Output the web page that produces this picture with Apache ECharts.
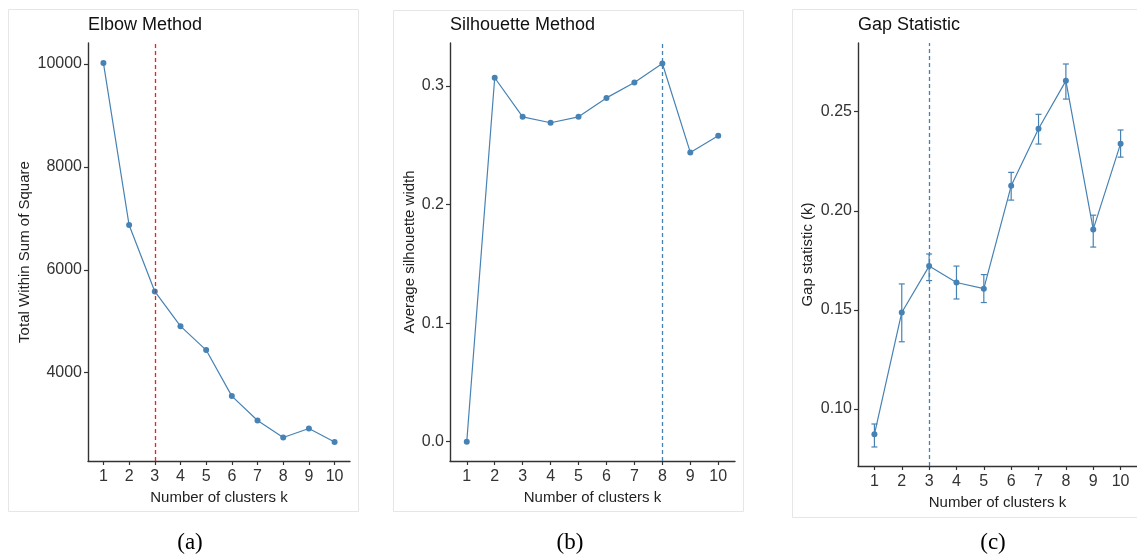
<!DOCTYPE html>
<html><head><meta charset="utf-8">
<script src="https://cdn.jsdelivr.net/npm/echarts@6/dist/echarts.min.js"></script>
<style>html,body{margin:0;padding:0;background:#fff}#c{width:1137px;height:556px}</style>
</head><body><div id="c"></div>
<script>
// ---- data ----
const ks = [1, 2, 3, 4, 5, 6, 7, 8, 9, 10];
const wss = [10020, 6870, 5580, 4905, 4440, 3545, 3070, 2740, 2915, 2655];
const sil = [0.000, 0.307, 0.274, 0.269, 0.274, 0.290, 0.303, 0.319, 0.244, 0.258];
const gap = [0.0872, 0.1487, 0.1721, 0.1638, 0.1607, 0.2126, 0.2414, 0.2656, 0.1906, 0.2339];
const gapLow = [0.0808, 0.1339, 0.1648, 0.1555, 0.1537, 0.2054, 0.2337, 0.2564, 0.1817, 0.2271];
const gapHigh = [0.0924, 0.1631, 0.1782, 0.1721, 0.1678, 0.2194, 0.2487, 0.2741, 0.1978, 0.2408];
const wssTicks = [4000, 6000, 8000, 10000];
const silTicks = [0.0, 0.1, 0.2, 0.3];
const gapTicks = [0.10, 0.15, 0.20, 0.25];
const titles = ['Elbow Method', 'Silhouette Method', 'Gap Statistic'];
const yNames = ['Total Within Sum of Square', 'Average silhouette width', 'Gap statistic (k)'];
const xName = 'Number of clusters k';
const captions = ['(a)', '(b)', '(c)'];
const optimalK = [3, 8, 3];

// ---- styling / layout ----
const FONT = 'Liberation Sans';
const BLUE = '#4682b4';
const AX = '#333';
const grids = [
  {left: 88, top: 43, width: 262, height: 418},
  {left: 450, top: 43, width: 285, height: 418},
  {left: 858, top: 43, width: 279, height: 423}
];
const yRanges = [[2284, 10408], [-0.0163, 0.3363], [0.0712, 0.2847]];
const yTickSets = [wssTicks, silTicks, gapTicks];
const yFmt = [v => String(v), v => v.toFixed(1), v => v.toFixed(2)];
const yNameGaps = [56, 32, 43];
const titleLefts = [88, 450, 858];
const vColors = ['#ff1a1a', BLUE, BLUE];

const chart = echarts.init(document.getElementById('c'), null, {renderer: 'canvas'});

const xAxes = grids.map((g, i) => ({
  type: 'value', gridIndex: i, min: 0.4, max: 10.6,
  name: xName, nameLocation: 'middle', nameGap: 28,
  nameTextStyle: {fontFamily: FONT, fontSize: 15, color: '#222'},
  axisLine: {show: true, onZero: false, lineStyle: {color: AX, width: 1.4}},
  axisTick: {show: true, length: 4, lineStyle: {color: AX, width: 1.2}, customValues: ks},
  axisLabel: {fontFamily: FONT, fontSize: 16, color: '#333', margin: 8, customValues: ks},
  splitLine: {show: false}
}));

const yAxes = grids.map((g, i) => ({
  type: 'value', gridIndex: i, min: yRanges[i][0], max: yRanges[i][1],
  name: yNames[i], nameLocation: 'middle', nameGap: yNameGaps[i],
  nameTextStyle: {fontFamily: FONT, fontSize: 15, color: '#222'},
  axisLine: {show: true, onZero: false, lineStyle: {color: AX, width: 1.4}},
  axisTick: {show: true, length: 4, lineStyle: {color: AX, width: 1.2}, customValues: yTickSets[i]},
  axisLabel: {fontFamily: FONT, fontSize: 16, color: '#333', margin: 6, customValues: yTickSets[i], formatter: yFmt[i]},
  splitLine: {show: false}
}));

const dataSets = [wss, sil, gap];
const series = dataSets.map((d, i) => ({
  type: 'line', xAxisIndex: i, yAxisIndex: i,
  data: ks.map((k, j) => [k, d[j]]),
  symbol: 'circle', symbolSize: 6, showSymbol: true,
  itemStyle: {color: BLUE},
  lineStyle: {color: BLUE, width: 1.2},
  z: 3,
  markLine: {
    silent: true, symbol: 'none', animation: false,
    label: {show: false},
    itemStyle: {color: vColors[i]},
    lineStyle: {color: vColors[i], type: [4, 3], width: 1.3, opacity: 1},
    emphasis: {disabled: true},
    data: [{xAxis: optimalK[i], lineStyle: {color: vColors[i]}}]
  }
}));

series.push({
  type: 'custom', xAxisIndex: 2, yAxisIndex: 2,
  data: ks.map((k, j) => [k, gapLow[j], gapHigh[j]]),
  encode: {x: 0, y: [1, 2]},
  z: 2,
  renderItem: function (params, api) {
    const x = api.value(0), lo = api.value(1), hi = api.value(2);
    const p1 = api.coord([x, lo]), p2 = api.coord([x, hi]);
    const w = 3;
    const style = {stroke: BLUE, lineWidth: 1.2, fill: null};
    return {type: 'group', children: [
      {type: 'line', shape: {x1: p1[0], y1: p1[1], x2: p2[0], y2: p2[1]}, style: style},
      {type: 'line', shape: {x1: p1[0] - w, y1: p1[1], x2: p1[0] + w, y2: p1[1]}, style: style},
      {type: 'line', shape: {x1: p2[0] - w, y1: p2[1], x2: p2[0] + w, y2: p2[1]}, style: style}
    ]};
  }
});

const panels = [
  {x: 8, y: 9, w: 350, h: 502},
  {x: 393, y: 10, w: 350, h: 501},
  {x: 792, y: 9, w: 350, h: 508}
];
const captionX = [190, 570, 993];

const graphic = panels.map(p => ({
  type: 'rect', z: -10, silent: true,
  shape: {x: p.x + 0.5, y: p.y + 0.5, width: p.w, height: p.h},
  style: {fill: null, stroke: '#e6e6e6', lineWidth: 1}
})).concat(captions.map((c, i) => ({
  type: 'text', silent: true,
  x: captionX[i], y: 543,
  style: {text: c, font: '23px "Liberation Serif"', fill: '#000', align: 'center', verticalAlign: 'middle'}
})));

chart.setOption({
  animation: false,
  backgroundColor: '#fff',
  title: titles.map((t, i) => ({
    text: t, left: titleLefts[i], top: 16, padding: 0,
    textStyle: {fontFamily: FONT, fontSize: 18, fontWeight: 'normal', color: '#111'}
  })),
  grid: grids.map(g => Object.assign({containLabel: false}, g)),
  xAxis: xAxes,
  yAxis: yAxes,
  series: series,
  graphic: graphic
});
</script>
</body></html>
